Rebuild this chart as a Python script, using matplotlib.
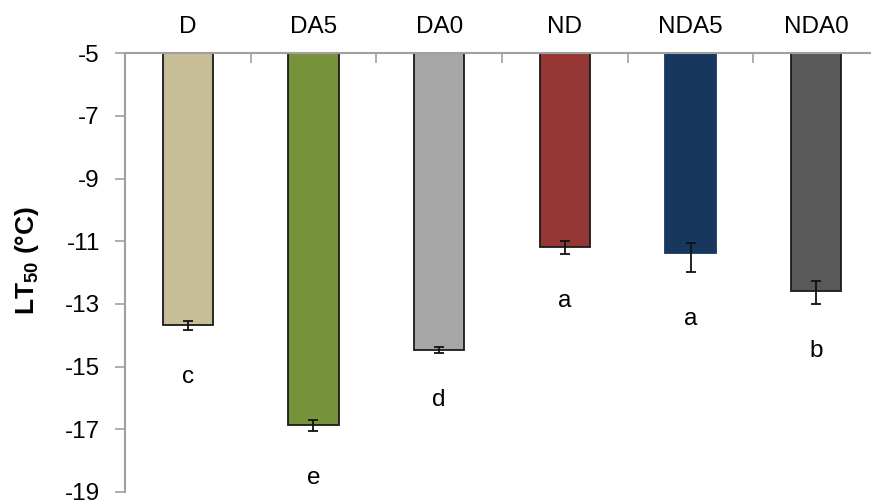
import matplotlib
matplotlib.use("Agg")
import matplotlib.pyplot as plt
import numpy as np

plt.rcParams["font.family"] = ["Liberation Sans", "DejaVu Sans"]
plt.rcParams["mathtext.fontset"] = "custom"
plt.rcParams["mathtext.rm"] = "Liberation Sans"
plt.rcParams["mathtext.bf"] = "Liberation Sans:bold"

# ---------------------------------------------------------------------------
# Data
# ---------------------------------------------------------------------------
groups   = ["D", "DA5", "DA0", "ND", "NDA5", "NDA0"]
lt50     = [-13.68, -16.87, -14.48, -11.19, -11.37, -12.58]
err_low  = [0.15, 0.17, 0.10, 0.21, 0.60, 0.43]
err_high = [0.15, 0.17, 0.10, 0.21, 0.31, 0.30]
letters  = ["c", "e", "d", "a", "a", "b"]

BASE = -5
Y_MIN = -19
Y_TICKS = np.arange(-5, -20, -2)

FILL  = ["#C7BE98", "#76933C", "#A6A6A6", "#953735", "#17375E", "#595959"]
EDGE  = ["#1a1a1a", "#1a1a1a", "#1a1a1a", "#1a1a1a", "#17375E", "#1a1a1a"]
AXIS_GRAY = "#A0A0A0"
FS = 17.5

fig = plt.figure(figsize=(8.71, 5.01), dpi=100)
ax = fig.add_axes([0.1435, 0.018, 0.8657, 0.8756])

x = np.arange(len(groups))
heights = [v - BASE for v in lt50]
ax.bar(x, heights, bottom=BASE, width=0.4, color=FILL, edgecolor=EDGE,
       linewidth=1.3, zorder=2)
ax.errorbar(x, lt50, yerr=[err_low, err_high], fmt="none", ecolor="#111111",
            elinewidth=1.3, capsize=3.8, capthick=1.3, zorder=3)

# significance letters under each bar
for xi, v, el, lab in zip(x, lt50, err_low, letters):
    ax.text(xi, v - el - 1.5, lab, ha="center", va="center", fontsize=FS)

ax.set_xlim(-0.5, len(groups) - 0.5)
ax.set_ylim(Y_MIN, BASE)
ax.set_yticks(Y_TICKS)
ax.set_yticklabels([f"{t:d}" for t in Y_TICKS])

ax.xaxis.tick_top()
ax.set_xticks(x)
ax.set_xticklabels(groups)
ax.set_xticks(np.arange(-0.5, len(groups), 1.0), minor=True)
ax.tick_params(axis="x", which="both", direction="in", length=7, width=1.2,
               color=AXIS_GRAY, labelsize=FS, pad=11)
ax.tick_params(axis="y", direction="out", length=7, width=1.2,
               color=AXIS_GRAY, labelsize=FS, pad=11)

for side in ("bottom", "right"):
    ax.spines[side].set_visible(False)
for side in ("top", "left"):
    ax.spines[side].set_color(AXIS_GRAY)
    ax.spines[side].set_linewidth(1.5)
ax.spines["top"].set_zorder(4)

fig.text(0.031, 0.48, r"$\mathbf{LT_{50}}$ (°C)", rotation=90, ha="center",
         va="center", fontsize=19, fontweight="bold")

fig.savefig("out.png", dpi=100)
